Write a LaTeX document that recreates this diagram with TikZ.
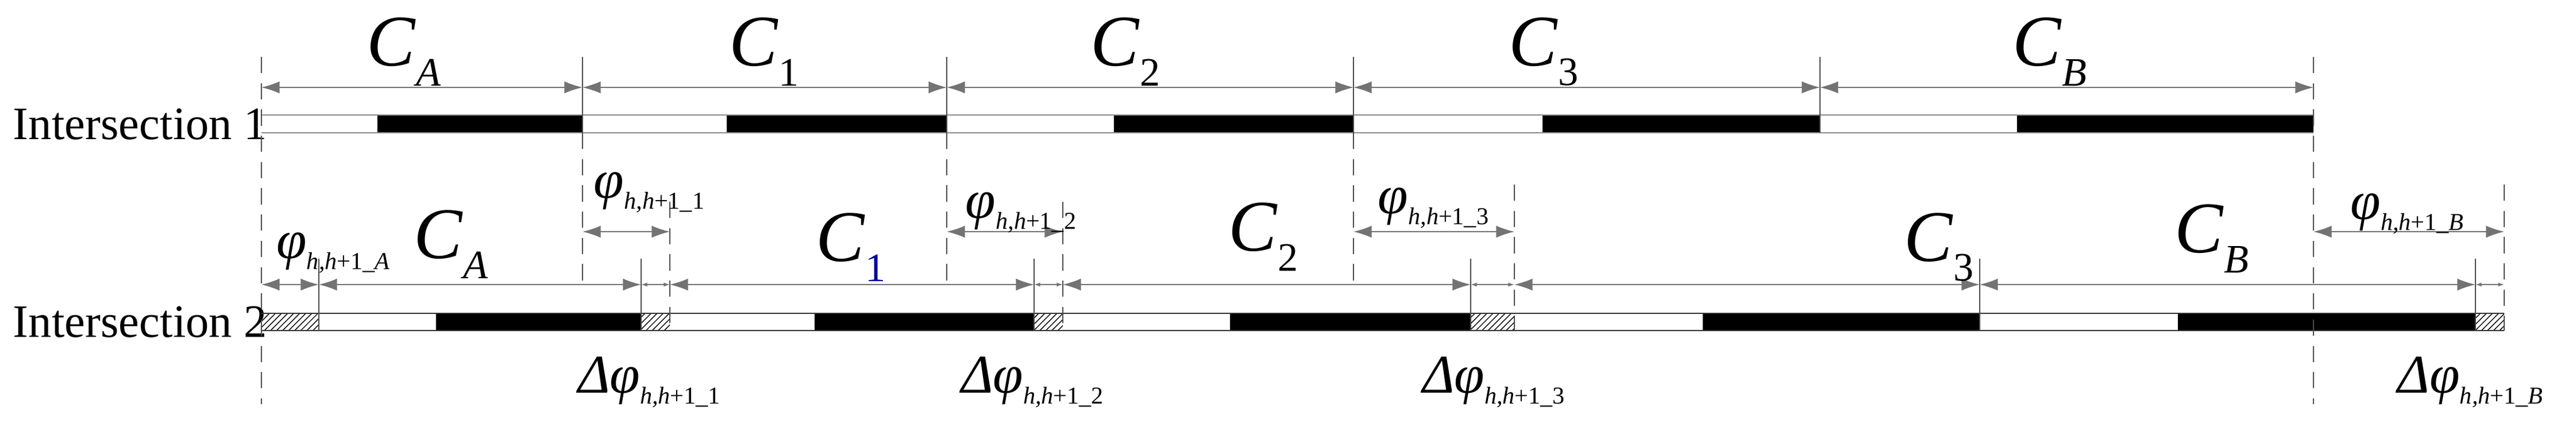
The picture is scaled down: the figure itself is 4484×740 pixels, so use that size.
\documentclass[tikz,border=0pt]{standalone}
\usepackage{fontspec}
\setmainfont{Liberation Serif}
\usetikzlibrary{arrows.meta,patterns}
\newcommand\myphi[1]{\textit{φ}\raisebox{-0.45ex}{\fontsize{12}{12}\selectfont\textit{h,h}+1\_#1}}
\newcommand\myC[1]{\textit{C}\raisebox{-0.6ex}{\fontsize{20}{20}\selectfont #1}}
\begin{document}
\begin{tikzpicture}[x=0.1mm,y=-0.1mm,
  dim/.style={draw=black!55,line width=0.5pt,{Latex[length=9pt,width=6pt]}-{Latex[length=9pt,width=6pt]}},
  vline/.style={draw=black!70,line width=0.4pt},
  dline/.style={draw=black!70,line width=0.5pt,dash pattern=on 8pt off 5pt},
  wseg/.style={fill=white},
  bseg/.style={fill=black},
  hseg/.style={pattern=north east lines},
  lab/.style={inner sep=0pt,font=\fontsize{36}{36}\selectfont},
  plab/.style={inner sep=0pt,font=\fontsize{27}{27}\selectfont},
  rlab/.style={inner sep=0pt,font=\fontsize{23}{23}\selectfont}]
\useasboundingbox (0,0) rectangle (4484,740);
% row labels
\node[rlab,anchor=west] (r1) at (22,216) {Intersection 1};
\node[rlab,anchor=west] (r2) at (22,560) {Intersection 2};
% bar 1
\foreach \a/\b/\s in {455/657/wseg,657/1014/bseg,1014/1265/wseg,1265/1648/bseg,1648/1939/wseg,1939/2356/bseg,2356/2685/wseg,2685/3168/bseg,3168/3511/wseg,3511/4027/bseg}
  \path[\s] (\a,200) rectangle (\b,231);
\draw[black!45,line width=0.8pt] (455,200) -- (4027,200) (455,231) -- (4027,231);
% bar 2
\foreach \a/\b/\s in {455/555/hseg,555/759/wseg,759/1116/bseg,1116/1166/hseg,1166/1418/wseg,1418/1800/bseg,1800/1850/hseg,1850/2141/wseg,2141/2560/bseg,2560/2636/hseg,2636/2964/wseg,2964/3446/bseg,3446/3791/wseg,3791/4309/bseg,4309/4359/hseg}
  \path[\s] (\a,545) rectangle (\b,575);
\draw[black!80,line width=0.8pt] (455,545) -- (4359,545) (455,575) -- (4359,575);
% vertical lines
\draw[dline] (455,99) -- (455,703);
\draw[dline] (4027,99) -- (4027,703);
\foreach \x in {1014,1648,2356}{
  \draw[vline] (\x,99) -- (\x,231);
  \draw[dline] (\x,231) -- (\x,495);}
\draw[vline] (3168,99) -- (3168,231);
\foreach \x/\t in {1166/351,1850/351,2636/321,4359/321}
  \draw[dline] (\x,\t) -- (\x,575);
\foreach \x in {555,1116,1800,2560,3446,4309}
  \draw[vline] (\x,450) -- (\x,575);
% top dimensions
\coordinate (t0) at (455,152); \coordinate (t1) at (1014,152); \coordinate (t2) at (1648,152);
\coordinate (t3) at (2356,152); \coordinate (t4) at (3168,152); \coordinate (t5) at (4027,152);
\draw[dim] (t0) -- (t1); \draw[dim] (t1) -- (t2); \draw[dim] (t2) -- (t3);
\draw[dim] (t3) -- (t4); \draw[dim] (t4) -- (t5);
\node[lab] (ca) at (703,90) {\myC{\textit{A}}};
\node[lab] (c1) at (1330,90) {\myC{1}};
\node[lab] (c2) at (1959,90) {\myC{2}};
\node[lab] (c3) at (2687,90) {\myC{3}};
\node[lab] (cb) at (3568,90) {\myC{\textit{B}}};
% phi dimensions
\draw[dim] (1014,403) -- (1166,403);
\draw[dim] (1648,403) -- (1850,403);
\draw[dim] (2356,403) -- (2636,403);
\draw[dim] (4027,403) -- (4359,403);
\node[plab] (p1) at (1130,335) {\myphi{1}};
\node[plab] (p2) at (1777,370) {\myphi{2}};
\node[plab] (p3) at (2495,362) {\myphi{3}};
\node[plab] (pb) at (4190,372) {\myphi{\textit{B}}};
% row 2 dimensions
\draw[dim] (455,495) -- (555,495);
\draw[dim] (555,495) -- (1116,495);
\draw[dim] (1166,495) -- (1800,495);
\draw[dim] (1850,495) -- (2560,495);
\draw[dim] (2636,495) -- (3446,495);
\draw[dim] (3446,495) -- (4309,495);
\foreach \a/\b in {1116/1166,1800/1850,2560/2636,4309/4359}
  \draw[black!55,line width=0.4pt,{Latex[length=3pt,width=2pt]}-{Latex[length=3pt,width=2pt]}] (\a,495) -- (\b,495);
\node[plab] (pa) at (580,440) {\myphi{\textit{A}}};
\node[lab] (ca2) at (785,425) {\myC{\textit{A}}};
\node[lab] (c12) at (1481,430) {\myC{\textcolor{blue!60!black}{1}}};
\node[lab] (c22) at (2199,412) {\myC{2}};
\node[lab] (c32) at (3375,430) {\myC{3}};
\node[lab] (cb2) at (3850,415) {\myC{\textit{B}}};
% delta labels
\node[plab] (d1) at (1130,665) {\textit{Δ}\myphi{1}};
\node[plab] (d2) at (1797,665) {\textit{Δ}\myphi{2}};
\node[plab] (d3) at (2600,665) {\textit{Δ}\myphi{3}};
\node[plab] (db) at (4300,665) {\textit{Δ}\myphi{\textit{B}}};
\end{tikzpicture}
\end{document}
